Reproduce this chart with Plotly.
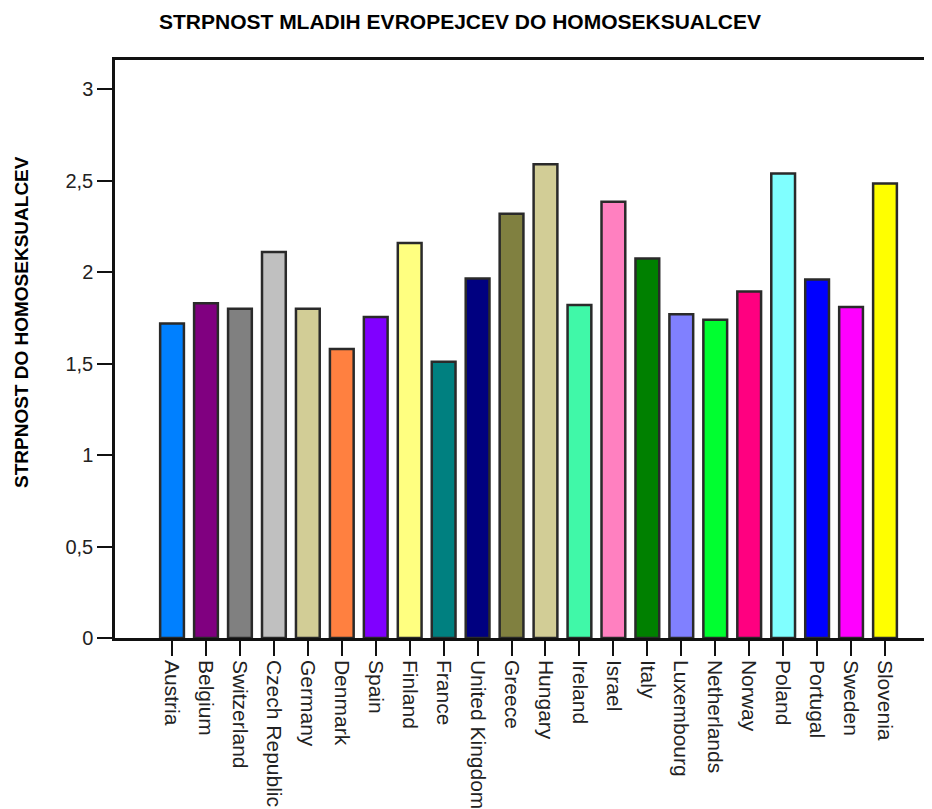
import plotly.graph_objects as go

countries = ["Austria", "Belgium", "Switzerland", "Czech Republic", "Germany", "Denmark",
             "Spain", "Finland", "France", "United Kingdom", "Greece", "Hungary", "Ireland",
             "Israel", "Italy", "Luxembourg", "Netherlands", "Norway", "Poland", "Portugal",
             "Sweden", "Slovenia"]
values = [1.72, 1.83, 1.80, 2.11, 1.80, 1.58, 1.755, 2.16, 1.51, 1.965, 2.32, 2.59, 1.82,
          2.385, 2.075, 1.77, 1.74, 1.895, 2.54, 1.96, 1.81, 2.485]
colors = ["#0080FF", "#800080", "#808080", "#C0C0C0", "#D2CD96", "#FF8040", "#8000FF",
          "#FFFF80", "#008080", "#000080", "#808040", "#D2CD96", "#40F8A8", "#FF80C0",
          "#008000", "#8080FF", "#00FF30", "#FF0080", "#80FFFF", "#0000FF", "#FF00FF",
          "#FFFF00"]
y_ticks = [0, 0.5, 1, 1.5, 2, 2.5, 3]
y_tick_labels = ["0", "0,5", "1", "1,5", "2", "2,5", "3"]

# page has an 8px body offset; margins compensate
OFF = 8
W, H = 932, 809
L, T, R = 115 - OFF, 60 - OFF, 0
B = H - (638 - OFF)

fig = go.Figure()
fig.add_trace(go.Bar(
    x=list(range(len(countries))), y=values,
    marker=dict(color=colors, line=dict(color="#2a2a2a", width=2.5)),
    width=0.7,
))

pw = W - L - R
ph = H - T - B
fig.add_annotation(
    text="<b>STRPNOST DO HOMOSEKSUALCEV</b>", textangle=-90,
    xref="paper", yref="paper",
    x=(22 - OFF - L) / pw, y=((638 - OFF) - (322 - OFF)) / ph,
    xanchor="center", yanchor="middle", showarrow=False,
    font=dict(size=19, family="Liberation Sans, Arial, sans-serif", color="#000"),
)

fig.update_layout(
    width=W, height=H,
    paper_bgcolor="white", plot_bgcolor="white",
    margin=dict(l=L, r=R, t=T, b=B),
    showlegend=False,
    font=dict(family="Liberation Sans, Arial, sans-serif", color="#000000"),
    title=dict(text="<b>STRPNOST MLADIH EVROPEJCEV DO HOMOSEKSUALCEV</b>",
               x=(460 - OFF) / W, xanchor="center", y=1 - (22 - OFF) / H, yanchor="middle",
               font=dict(size=21, family="Liberation Sans, Arial, sans-serif", color="#000")),
    xaxis=dict(
        range=[-1.68, 22.62],
        tickmode="array", tickvals=list(range(len(countries))), ticktext=countries,
        tickangle=90, ticks="outside", ticklen=15, tickwidth=2, tickcolor="#111",
        showline=True, linecolor="#111", linewidth=2.5, mirror=True,
        showgrid=False, zeroline=False,
        tickfont=dict(size=21, color="#222"),
    ),
    yaxis=dict(
        range=[0, 3.16],
        tickmode="array", tickvals=y_ticks, ticktext=y_tick_labels,
        ticks="outside", ticklen=15, tickwidth=2, tickcolor="#111",
        showline=True, linecolor="#111", linewidth=2.5,
        showgrid=False, zeroline=False,
        tickfont=dict(size=20, color="#222"),
    ),
)

fig.write_html("out.html")
